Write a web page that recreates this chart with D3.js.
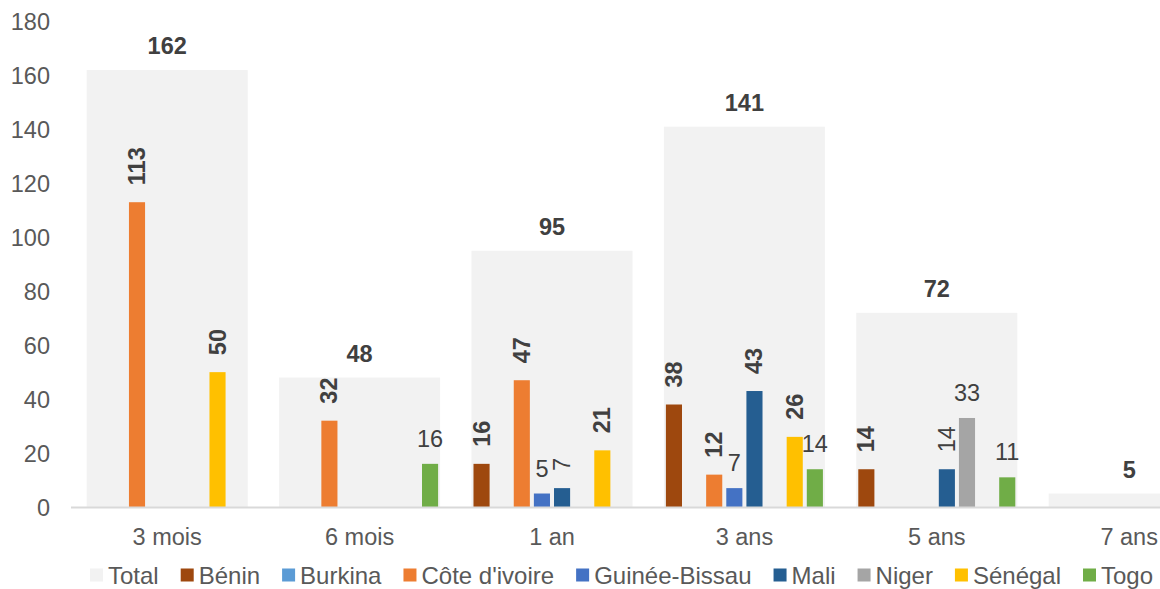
<!DOCTYPE html>
<html>
<head>
<meta charset="utf-8">
<script src="https://cdn.jsdelivr.net/npm/d3@7"></script>
<style>
  html, body { margin: 0; padding: 0; background: #ffffff; overflow: hidden; }
  svg { display: block; }
  text { font-family: "Liberation Sans", Arial, sans-serif; }
</style>
</head>
<body>
<svg id="chart" width="1160" height="589"></svg>
<script>
// ---- data ----
const categories = ["3 mois", "6 mois", "1 an", "3 ans", "5 ans", "7 ans"];
const seriesNames = ["Bénin", "Burkina", "Côte d'ivoire", "Guinée-Bissau", "Mali", "Niger", "Sénégal", "Togo"];
const total        = [162, 48, 95, 141, 72, 5];
const benin        = [null, null, 16, 38, 14, null];
const burkina      = [null, null, null, null, null, null];
const coteIvoire   = [113, 32, 47, 12, null, null];
const guineeBissau = [null, null, 5, 7, null, null];
const mali         = [null, null, 7, 43, 14, null];
const niger        = [null, null, null, null, 33, null];
const senegal      = [50, null, 21, 26, null, null];
const togo         = [null, 16, null, 14, 11, null];
const yTicks = [0, 20, 40, 60, 80, 100, 120, 140, 160, 180];

const seriesValues = [benin, burkina, coteIvoire, guineeBissau, mali, niger, senegal, togo];

// ---- styling ----
const totalColor = "#F2F2F2";
const seriesColors = ["#9E480E", "#5B9BD5", "#ED7D31", "#4472C4", "#255E91", "#A5A5A5", "#FFC000", "#70AD47"];
// label style per series/category: B = bold rotated, r = regular rotated, h = regular horizontal
const labelStyles = [
  [null, null, "B", "B", "B", null],
  [null, null, null, null, null, null],
  ["B", "B", "B", "B", null, null],
  [null, null, "h", "h", null, null],
  [null, null, "r", "B", "r", null],
  [null, null, null, null, "h", null],
  ["B", null, "B", "B", null, null],
  [null, "h", null, "h", "h", null]
];
const fontSize = 23.5;
const legendFontSize = 24;
const labelColor = "#404040";
const axisTextColor = "#595959";

const svg = d3.select("#chart");
const step = 192.4;
const x0 = 71;

const x = d3.scaleBand()
  .domain(categories)
  .range([x0, x0 + step * categories.length])
  .paddingInner(0.163)
  .paddingOuter(0.0815);

const xs = d3.scaleBand()
  .domain(seriesNames)
  .range([0, x.bandwidth()])
  .paddingInner(0.2)
  .paddingOuter(0.1);

const y = d3.scaleLinear().domain([0, 180]).range([507, 21.5]);

// Total bars
svg.append("g").selectAll("rect")
  .data(categories.map((c, i) => ({ c, v: total[i] })))
  .join("rect")
  .attr("x", d => x(d.c))
  .attr("y", d => y(d.v))
  .attr("width", x.bandwidth())
  .attr("height", d => y(0) - y(d.v))
  .attr("fill", totalColor);

// Total labels
svg.append("g").selectAll("text")
  .data(categories.map((c, i) => ({ c, v: total[i] })))
  .join("text")
  .attr("x", d => x(d.c) + x.bandwidth() / 2)
  .attr("y", d => y(d.v) - 24)
  .attr("text-anchor", "middle")
  .attr("dominant-baseline", "central")
  .attr("font-size", fontSize)
  .attr("font-weight", "bold")
  .attr("fill", labelColor)
  .text(d => d.v);

// Country bars
const pts = [];
seriesNames.forEach((s, si) => {
  categories.forEach((c, ci) => {
    const v = seriesValues[si][ci];
    if (v !== null && v !== undefined) pts.push({ s, si, c, ci, v, st: labelStyles[si][ci] });
  });
});

svg.append("g").selectAll("rect")
  .data(pts)
  .join("rect")
  .attr("x", d => x(d.c) + xs(d.s))
  .attr("y", d => y(d.v))
  .attr("width", xs.bandwidth())
  .attr("height", d => y(0) - y(d.v))
  .attr("fill", d => seriesColors[d.si]);

// Country labels
const lg = svg.append("g");
pts.forEach(d => {
  const cx = x(d.c) + xs(d.s) + xs.bandwidth() / 2;
  const top = y(d.v);
  if (d.st === "h") {
    lg.append("text")
      .attr("x", cx)
      .attr("y", top - 25)
      .attr("text-anchor", "middle")
      .attr("dominant-baseline", "central")
      .attr("font-size", fontSize)
      .attr("fill", labelColor)
      .text(d.v);
  } else {
    const gap = 17;
    lg.append("text")
      .attr("transform", `translate(${cx},${top - gap}) rotate(-90)`)
      .attr("text-anchor", "start")
      .attr("dominant-baseline", "central")
      .attr("font-size", fontSize)
      .attr("font-weight", d.st === "B" ? "bold" : "normal")
      .attr("fill", labelColor)
      .text(d.v);
  }
});

// X axis baseline
svg.append("line")
  .attr("x1", x0).attr("x2", 1160)
  .attr("y1", y(0) + 0.5).attr("y2", y(0) + 0.5)
  .attr("stroke", "#D9D9D9")
  .attr("stroke-width", 2);

// X axis labels
const xAxis = d3.axisBottom(x).tickSize(0).tickPadding(0);
const gx = svg.append("g").attr("transform", `translate(0,${537})`).call(xAxis);
gx.select(".domain").remove();
gx.selectAll("text")
  .attr("dy", null)
  .attr("y", 0)
  .attr("dominant-baseline", "central")
  .attr("font-size", fontSize)
  .attr("font-family", "Liberation Sans, Arial, sans-serif")
  .attr("fill", axisTextColor);

// Y axis labels
const yAxis = d3.axisLeft(y).tickValues(yTicks).tickSize(0).tickPadding(0);
const gy = svg.append("g").attr("transform", `translate(50,0)`).call(yAxis);
gy.select(".domain").remove();
gy.selectAll("text")
  .attr("dy", null)
  .attr("x", 0)
  .attr("dominant-baseline", "central")
  .attr("font-size", fontSize)
  .attr("font-family", "Liberation Sans, Arial, sans-serif")
  .attr("fill", axisTextColor);

// Legend
const legendItems = [{ name: "Total", color: totalColor }]
  .concat(seriesNames.map((s, i) => ({ name: s, color: seriesColors[i] })));
const leg = svg.append("g").attr("transform", "translate(0,575)");
let lx = 90;
legendItems.forEach(it => {
  leg.append("rect")
    .attr("x", lx).attr("y", -6.5)
    .attr("width", 13).attr("height", 13)
    .attr("fill", it.color);
  const t = leg.append("text")
    .attr("x", lx + 18)
    .attr("y", 0)
    .attr("dominant-baseline", "central")
    .attr("font-size", legendFontSize)
    .attr("fill", axisTextColor)
    .text(it.name);
  lx += 18 + t.node().getComputedTextLength() + 22;
});
</script>
</body>
</html>
